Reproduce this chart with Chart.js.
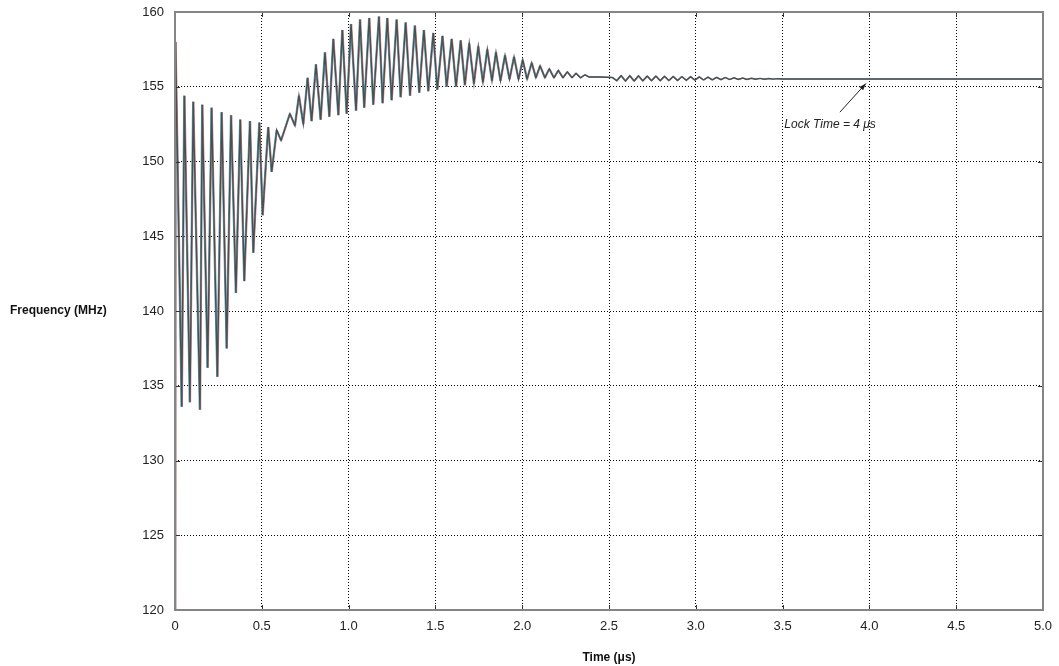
<!DOCTYPE html>
<html>
<head>
<meta charset="utf-8">
<script src="https://cdn.jsdelivr.net/npm/chart.js@4.4.1/dist/chart.umd.min.js"></script>
<style>
  body { margin: 0; background: #fff; }
  #wrap { width: 1059px; height: 666px; }
</style>
</head>
<body>
<div id="wrap"><canvas id="chart" width="1059" height="666"></canvas></div>
<script>
const timeUs = [
  0.000, 0.003, 0.039, 0.054, 0.086, 0.105, 0.144, 0.157, 0.188, 0.211,
  0.244, 0.269, 0.298, 0.323, 0.351, 0.376, 0.399, 0.432, 0.451, 0.486,
  0.505, 0.537, 0.557, 0.586, 0.611, 0.662, 0.691, 0.714, 0.739, 0.764,
  0.787, 0.812, 0.839, 0.864, 0.889, 0.912, 0.941, 0.964, 0.989, 1.014,
  1.043, 1.066, 1.090, 1.119, 1.142, 1.175, 1.196, 1.223, 1.248, 1.277,
  1.300, 1.329, 1.354, 1.382, 1.407, 1.434, 1.459, 1.488, 1.511, 1.541,
  1.565, 1.594, 1.619, 1.646, 1.670, 1.695, 1.722, 1.747, 1.774, 1.799,
  1.826, 1.849, 1.875, 1.901, 1.927, 1.953, 1.979, 2.003, 2.028, 2.055,
  2.079, 2.103, 2.131, 2.156, 2.183, 2.208, 2.235, 2.260, 2.287, 2.310,
  2.336, 2.362, 2.385, 2.450, 2.520,
  2.545, 2.570, 2.595, 2.620, 2.645, 2.670, 2.695, 2.720, 2.745, 2.770,
  2.795, 2.820, 2.845, 2.870, 2.895, 2.920, 2.945, 2.970, 2.995, 3.020,
  3.045, 3.070, 3.095, 3.120, 3.145, 3.170, 3.195, 3.220, 3.245, 3.270,
  3.295, 3.320, 3.345, 3.370, 3.395, 3.420, 3.445, 3.470, 3.500, 4.000,
  5.000
];
const freqMHz = [
  120.0, 158.0, 133.6, 154.4, 133.9, 154.0, 133.4, 153.8, 136.2, 153.6,
  135.6, 153.3, 137.5, 153.1, 141.2, 152.8, 142.0, 152.7, 143.9, 152.6,
  146.4, 152.3, 149.3, 152.1, 151.4, 153.2, 152.4, 154.4, 152.5, 155.6,
  152.7, 156.5, 152.8, 157.3, 153.0, 158.2, 153.1, 158.8, 153.2, 159.2,
  153.4, 159.5, 153.6, 159.6, 153.8, 159.7, 153.9, 159.6, 154.1, 159.5,
  154.3, 159.3, 154.4, 159.1, 154.6, 158.8, 154.7, 158.6, 154.8, 158.4,
  155.0, 158.2, 155.0, 158.1, 155.1, 157.9, 155.2, 157.7, 155.3, 157.5,
  155.4, 157.3, 155.4, 157.1, 155.5, 157.0, 155.5, 156.8, 155.5, 156.6,
  155.6, 156.4, 155.6, 156.2, 155.6, 156.1, 155.6, 156.0, 155.6, 155.9,
  155.6, 155.8, 155.65, 155.65, 155.62,
  155.40, 155.75, 155.38, 155.74, 155.38, 155.73, 155.39, 155.72, 155.40, 155.72,
  155.40, 155.70, 155.41, 155.69, 155.42, 155.68, 155.43, 155.67, 155.44, 155.66,
  155.45, 155.64, 155.46, 155.63, 155.47, 155.62, 155.48, 155.60, 155.49, 155.58,
  155.49, 155.57, 155.50, 155.56, 155.50, 155.55, 155.51, 155.54, 155.52, 155.52,
  155.52
];

const xTicks = [0, 0.5, 1.0, 1.5, 2.0, 2.5, 3.0, 3.5, 4.0, 4.5, 5.0];
const xTickLabels = ["0", "0.5", "1.0", "1.5", "2.0", "2.5", "3.0", "3.5", "4.0", "4.5", "5.0"];
const yTicks = [120, 125, 130, 135, 140, 145, 150, 155, 160];
const yTickLabels = ["120", "125", "130", "135", "140", "145", "150", "155", "160"];

// three overlaid scope traces, a hair apart in time (first one is drawn on top)
const traceColors = ["#4e4e4e", "#4aa8c8", "#c98686"];
const traceShiftUs = [0, -0.004, 0.004];
const traceWidths = [1.4, 1.0, 1.0];

const lockTimeUs = 4;
const lockLabel = "Lock Time = 4 \u03bcs";
const lockLabelAt = { x: 3.51, y: 152.45 };
const lockArrowFrom = { x: 3.83, y: 153.3 };

const xTitle = "Time (\u03bcs)";
const yTitle = "Frequency (MHz)";

const FONT = "'Liberation Sans', Arial, Helvetica, sans-serif";

const datasets = traceColors.map((color, k) => ({
  label: "trace " + (k + 1),
  data: timeUs.map((t, i) => ({ x: t + traceShiftUs[k], y: freqMHz[i] })),
  borderColor: color,
  borderWidth: traceWidths[k],
  pointRadius: 0,
  tension: 0,
  fill: false,
}));

const extras = {
  id: "extras",
  afterDraw(chart) {
    const { ctx, chartArea: a, scales: { x, y } } = chart;
    ctx.save();

    // inward tick marks on all four sides
    ctx.strokeStyle = "#333";
    ctx.lineWidth = 1;
    ctx.beginPath();
    yTicks.forEach((v) => {
      const py = Math.round(y.getPixelForValue(v)) + 0.5;
      ctx.moveTo(a.left, py); ctx.lineTo(a.left + 5, py);
      ctx.moveTo(a.right, py); ctx.lineTo(a.right - 5, py);
    });
    xTicks.forEach((v) => {
      const px = Math.round(x.getPixelForValue(v)) + 0.5;
      ctx.moveTo(px, a.bottom); ctx.lineTo(px, a.bottom - 5);
      ctx.moveTo(px, a.top); ctx.lineTo(px, a.top + 5);
    });
    ctx.stroke();

    // frame
    ctx.strokeStyle = "#858585";
    ctx.lineWidth = 2;
    ctx.strokeRect(a.left, a.top, a.right - a.left, a.bottom - a.top);

    // horizontal y title
    ctx.fillStyle = "#111";
    ctx.font = "bold 12px " + FONT;
    ctx.textAlign = "left";
    ctx.textBaseline = "middle";
    ctx.fillText(yTitle, 10, (a.top + a.bottom) / 2);

    // lock time annotation
    const settled = freqMHz[freqMHz.length - 1];
    const hx = x.getPixelForValue(lockTimeUs - 0.02);
    const hy = y.getPixelForValue(settled - 0.3);
    const tx = x.getPixelForValue(lockArrowFrom.x);
    const ty = y.getPixelForValue(lockArrowFrom.y);
    ctx.strokeStyle = "#222";
    ctx.fillStyle = "#222";
    ctx.lineWidth = 1;
    ctx.beginPath();
    ctx.moveTo(tx, ty);
    ctx.lineTo(hx, hy);
    ctx.stroke();
    const ang = Math.atan2(hy - ty, hx - tx);
    ctx.beginPath();
    ctx.moveTo(hx, hy);
    ctx.lineTo(hx - 7 * Math.cos(ang) + 2.5 * Math.sin(ang), hy - 7 * Math.sin(ang) - 2.5 * Math.cos(ang));
    ctx.lineTo(hx - 7 * Math.cos(ang) - 2.5 * Math.sin(ang), hy - 7 * Math.sin(ang) + 2.5 * Math.cos(ang));
    ctx.closePath();
    ctx.fill();

    ctx.font = "italic 12px " + FONT;
    ctx.textAlign = "left";
    ctx.textBaseline = "middle";
    ctx.fillText(lockLabel, x.getPixelForValue(lockLabelAt.x), y.getPixelForValue(lockLabelAt.y));

    ctx.restore();
  },
};

new Chart(document.querySelector("#chart").getContext("2d"), {
  type: "line",
  data: { datasets },
  options: {
    responsive: false,
    animation: false,
    devicePixelRatio: 1,
    layout: { padding: { top: 12, right: 16, left: 0, bottom: 0 } },
    plugins: { legend: { display: false }, tooltip: { enabled: false } },
    scales: {
      x: {
        type: "linear",
        min: 0,
        max: 5,
        afterBuildTicks: (s) => { s.ticks = xTicks.map((v) => ({ value: v })); },
        afterFit: (s) => { s.height = 56; s.paddingLeft = 0; s.paddingRight = 0; },
        ticks: {
          callback: (v, i) => xTickLabels[i],
          font: { family: FONT, size: 13 },
          color: "#222",
          padding: 9,
          maxRotation: 0,
        },
        grid: { color: "#000", lineWidth: 1, drawTicks: false },
        border: { display: false, dash: [1, 2] },
        title: {
          display: true,
          text: xTitle,
          font: { family: FONT, size: 12, weight: "bold" },
          color: "#111",
          padding: { top: 0, bottom: 1 },
        },
      },
      y: {
        type: "linear",
        min: 120,
        max: 160,
        afterBuildTicks: (s) => { s.ticks = yTicks.map((v) => ({ value: v })); },
        afterFit: (s) => { s.width = 175; s.paddingTop = 0; s.paddingBottom = 0; },
        ticks: {
          callback: (v, i) => yTickLabels[i],
          font: { family: FONT, size: 13 },
          color: "#222",
          padding: 11,
        },
        grid: { color: "#000", lineWidth: 1, drawTicks: false },
        border: { display: false, dash: [1, 2] },
      },
    },
  },
  plugins: [extras],
});
</script>
</body>
</html>
